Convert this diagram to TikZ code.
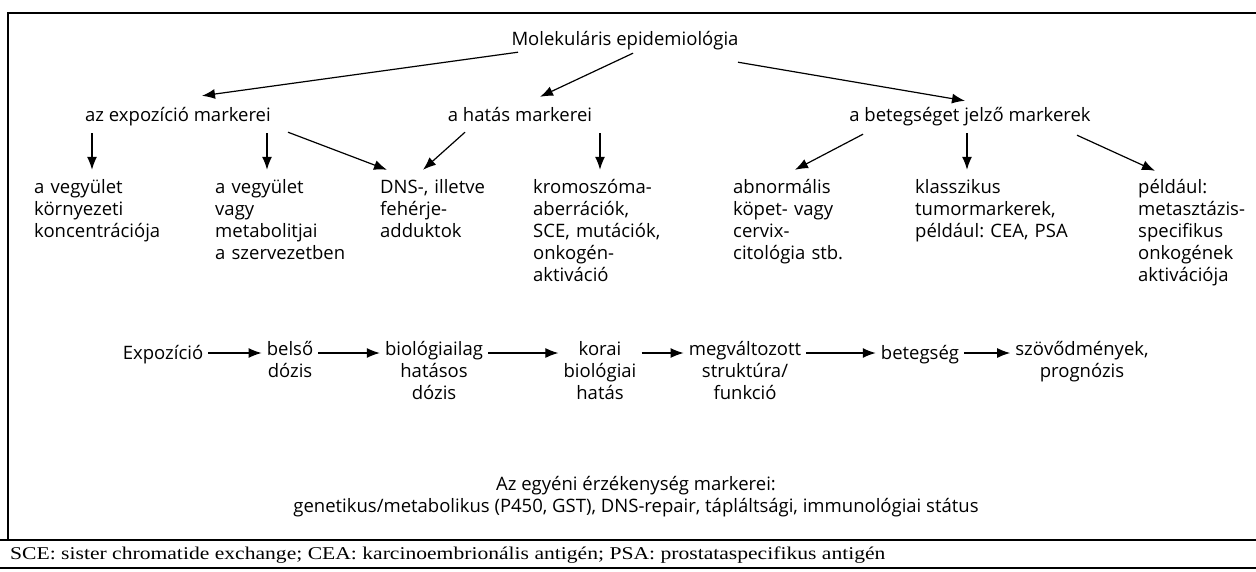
\documentclass[tikz,border=0pt]{standalone}
\usepackage{fontspec}
\setmainfont{Open Sans}
\newfontfamily\notefont[FakeStretch=1.2]{Liberation Serif}
\usetikzlibrary{calc,arrows.meta}
\frenchspacing
\begin{document}
\begin{tikzpicture}[x=1pt,y=-1pt,>={Latex[length=13pt,width=10pt]},
		every node/.style={font=\fontsize{18.5}{22}\selectfont, inner sep=2pt},
		headnode/.style={anchor=base, text height=14pt, text depth=5pt},
		colnode/.style={anchor=base west, text width=180pt, align=left,
			execute at begin node=\rule{0pt}{18pt}},
		chainnode/.style={anchor=north, align=center,
			execute at begin node=\rule{0pt}{18pt}},
		arr/.style={->, line width=1.2pt},
		frameline/.style={line width=1.3pt}
		]
		\useasboundingbox (0,0) rectangle (1256,571);
		\draw[frameline] (8,540) -- (8,13) -- (1256,13);
		\draw[frameline] (0,540) -- (1256,540);
		\draw[frameline] (0,568) -- (1256,568);

		\node[headnode](M0) at (625,45){Molekuláris epidemiológia};
		\node[headnode](E0) at (178,121){az expozíció markerei};
		\node[headnode](H0) at (520,121){a hatás markerei};
		\node[headnode](B0) at (970,121){a betegséget jelző markerek};
		\draw[arr] ($(M0.south)+(-107,0)$) -- ($(E0.north)+(24,-9)$);
		\draw[arr] ($(M0.south)+(8,1)$) -- ($(H0.north)+(20,-8)$);
		\draw[arr] ($(M0.south)+(113,10)$) -- ($(B0.north)+(-5,-4)$);

		\node[colnode](C1) at (32,193){a vegyület\\környezeti\\koncentrációja};
		\node[colnode](C2) at (213,193){a vegyület\\vagy\\metabolitjai\\a szervezetben};
		\node[colnode](C3) at (378,193){DNS-, illetve\\fehérje-\\adduktok};
		\node[colnode](C4) at (531,193){kromoszóma-\\aberrációk,\\SCE, mutációk,\\onkogén-\\aktiváció};
		\node[colnode](C5) at (731,193){abnormális\\köpet- vagy\\cervix-\\citológia stb.};
		\node[colnode](C6) at (913,193){klasszikus\\tumormarkerek,\\például: CEA, PSA};
		\node[colnode](C7) at (1136,193){például:\\metasztázis-\\specifikus\\onkogének\\aktivációja};
		\draw[arr] ($(E0.south)+(-86,5)$) -- ($(C1.north west)+(60,-3)$);
		\draw[arr] ($(E0.south)+(89,5)$) -- ($(C2.north west)+(54,-3)$);
		\draw[arr] ($(E0.south)+(110,4)$) -- ($(C3.north west)+(9,-3)$);
		\draw[arr] ($(H0.south)+(-55,4)$) -- ($(C3.north west)+(45,-3)$);
		\draw[arr] ($(H0.south)+(80,5)$) -- ($(C4.north west)+(69,-3)$);
		\draw[arr] ($(B0.south)+(-107,6)$) -- ($(C5.north west)+(64,-3)$);
		\draw[arr] ($(B0.south)+(-3,5)$) -- ($(C6.north west)+(54,-3)$);
		\draw[arr] ($(B0.south)+(107,7)$) -- ($(C7.north west)+(19,-2)$);

		\node[chainnode](K1) at (163,339){Expozíció};
		\node[chainnode](K2) at (290,339){belső\\dózis};
		\node[chainnode](K3) at (434,339){biológiailag\\hatásos\\dózis};
		\node[chainnode](K4) at (600,339){korai\\biológiai\\hatás};
		\node[chainnode](K5) at (745,339){megváltozott\\struktúra/\\funkció};
		\node[chainnode](K6) at (920,339){betegség};
		\node[chainnode](K7) at (1082,339){szövődmények,\\prognózis};
		\foreach \a/\b in {K1/K2,K2/K3,K3/K4,K4/K5,K5/K6,K6/K7}
			\draw[arr, shorten <=3pt, shorten >=3pt] ($(\a.north east)+(0,14)$) -- ($(\b.north west)+(0,14)$);

		\node[chainnode](S0) at (636,474){Az egyéni érzékenység markerei:\\genetikus/metabolikus (P450, GST), DNS-repair, tápláltsági, immunológiai státus};
		\node[anchor=base west, font=\notefont\fontsize{18}{22}\selectfont](N0) at (8,559){SCE: sister chromatide exchange; CEA: karcinoembrionális antigén; PSA: prostataspecifikus antigén};
	\end{tikzpicture}
\end{document}
